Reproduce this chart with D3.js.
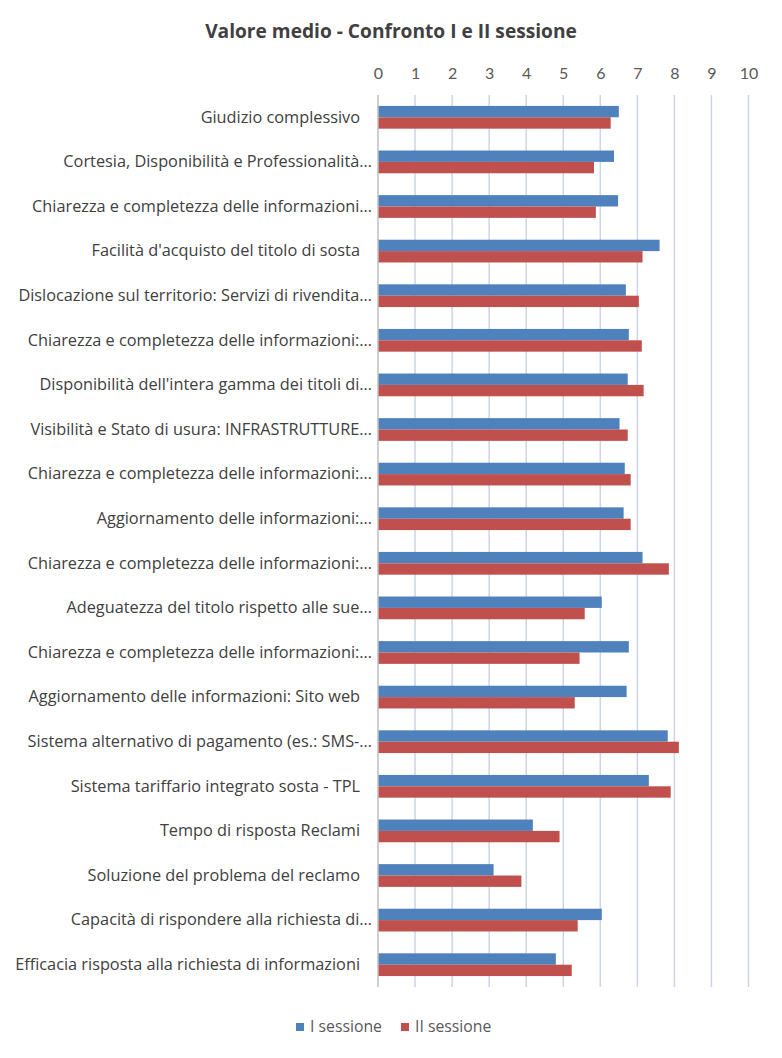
<!DOCTYPE html>
<html><head><meta charset="utf-8">
<script src="https://cdn.jsdelivr.net/npm/d3@7"></script>
<style>body{margin:0;background:#fff;} text{font-family:"Open Sans",Lato,sans-serif;}</style>
</head><body>
<script>
const categories = [
 "Giudizio complessivo",
 "Cortesia, Disponibilità e Professionalità…",
 "Chiarezza e completezza delle informazioni…",
 "Facilità d'acquisto del titolo di sosta",
 "Dislocazione sul territorio: Servizi di rivendita…",
 "Chiarezza e completezza delle informazioni:…",
 "Disponibilità dell'intera gamma dei titoli di…",
 "Visibilità e Stato di usura: INFRASTRUTTURE…",
 "Chiarezza e completezza delle informazioni:…",
 "Aggiornamento delle informazioni:…",
 "Chiarezza e completezza delle informazioni:…",
 "Adeguatezza del titolo rispetto alle sue…",
 "Chiarezza e completezza delle informazioni:…",
 "Aggiornamento delle informazioni: Sito web",
 "Sistema alternativo di pagamento (es.: SMS-…",
 "Sistema tariffario integrato sosta - TPL",
 "Tempo di risposta Reclami",
 "Soluzione del problema del reclamo",
 "Capacità di rispondere alla richiesta di…",
 "Efficacia risposta alla richiesta di informazioni"
];
const sessione1 = [6.50,6.37,6.48,7.60,6.69,6.77,6.74,6.52,6.66,6.63,7.14,6.04,6.77,6.71,7.82,7.31,4.18,3.12,6.04,4.80];
const sessione2 = [6.28,5.83,5.88,7.14,7.04,7.12,7.17,6.74,6.82,6.82,7.85,5.58,5.44,5.31,8.12,7.90,4.90,3.87,5.39,5.23];
const tickValues = [0,1,2,3,4,5,6,7,8,9,10];
const seriesNames = ["I sessione","II sessione"];
const colors = ["#4F81BD","#C0504D"];

const W = 782, H = 1058;
const svg = d3.select("body").append("svg").attr("width", W).attr("height", H);

function fit(sel, base, target){
  sel.attr("font-size", base);
  const len = sel.node().getComputedTextLength();
  const fs = base * target / len;
  return fs;
}

const x = d3.scaleLinear().domain([0,10]).range([378, 748.5]);
const y = d3.scaleBand().domain(d3.range(categories.length)).range([95, 987]).paddingInner(0.49).paddingOuter(0.245);
const sub = d3.scaleBand().domain([0,1]).range([0, y.bandwidth()]);

const title = svg.append("text").attr("x", 391).attr("y", 38).attr("text-anchor","middle")
  .attr("font-weight","bold").attr("fill","#404040")
  .text("Valore medio - Confronto  I e II sessione");
title.attr("font-size", fit(title, 19, 372));

// gridlines
svg.append("g").selectAll("line").data(tickValues.slice(1)).join("line")
  .attr("x1", d=>x(d)).attr("x2", d=>x(d)).attr("y1", 95).attr("y2", 987)
  .attr("stroke", "#cdd5e3").attr("stroke-width", 1.5);

// top axis labels
const ax = svg.append("g").attr("transform","translate(0,79)")
  .call(d3.axisTop(x).tickValues(tickValues).tickSize(0).tickPadding(0).tickFormat(d3.format("d")));
ax.select(".domain").remove();
ax.selectAll("text").attr("font-size", 16).attr("fill","#595959").style("font-family","Lato, sans-serif");

// bars
const rows = svg.append("g").selectAll("g").data(categories.map((c,i)=>({i, v:[sessione1[i], sessione2[i]]}))).join("g")
  .attr("transform", d=>`translate(0,${y(d.i)})`);
rows.selectAll("rect").data(d=>d.v.map((v,k)=>({v,k}))).join("rect")
  .attr("x", x(0)).attr("y", d=>sub(d.k)).attr("width", d=>x(d.v)-x(0)).attr("height", sub.bandwidth())
  .attr("fill", d=>colors[d.k]);

// zero axis line
svg.append("line").attr("x1", x(0)).attr("x2", x(0)).attr("y1", 95).attr("y2", 987)
  .attr("stroke","#bfbfbf").attr("stroke-width",1.5);

// category labels
const ya = svg.append("g").attr("transform", `translate(${x(0)},0)`)
  .call(d3.axisLeft(y).tickSize(0).tickPadding(0).tickFormat(i=>categories[i]));
ya.select(".domain").remove();
const labels = ya.selectAll("text").attr("fill","#404040")
  .attr("x", function(i){ return categories[i].endsWith("…") ? -6 : -18; })
  .style("font-family","'Open Sans', sans-serif");
const longest = labels.filter(i=>i===categories.length-1);
labels.attr("font-size", fit(longest, 15, 345));

// legend
const lg = svg.append("g");
const legendX = [296, 401];
let legFs = null;
seriesNames.forEach((n,k)=>{
  lg.append("rect").attr("x", legendX[k]).attr("y", 1023).attr("width", 8).attr("height", 8).attr("fill", colors[k]);
  const t = lg.append("text").attr("x", legendX[k]+14).attr("y", 1032).attr("fill","#595959").text(n);
  if (k===0) legFs = fit(t, 15, 72);
  t.attr("font-size", legFs);
});
</script>
</body></html>
